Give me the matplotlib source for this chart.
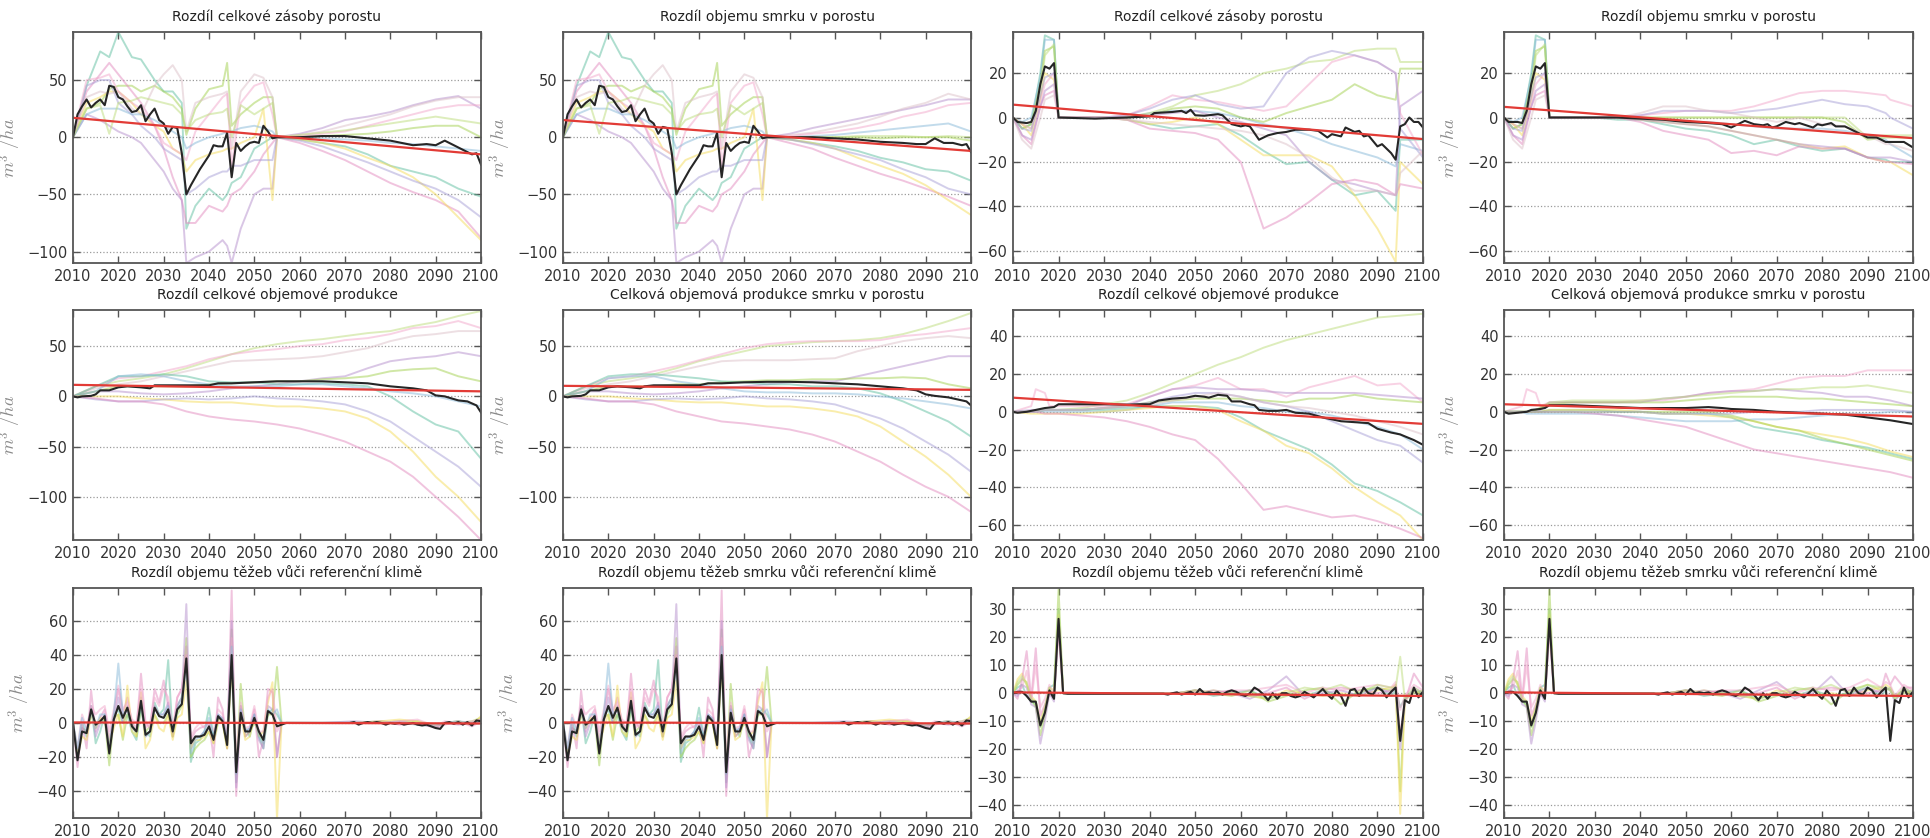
import matplotlib
matplotlib.use("Agg")
from matplotlib import pyplot as plt
from matplotlib.transforms import Bbox, TransformedBbox

plt.rcParams['font.family'] = ['DejaVu Sans']
plt.rcParams['mathtext.fontset'] = 'cm'

X_MIN, X_MAX = 2010, 2100
X_TICKS = list(range(2010, 2101, 10))
YEARS = list(range(2010, 2101))

TITLES = [
    ["Rozdíl celkové zásoby porostu", "Rozdíl objemu smrku v porostu",
     "Rozdíl celkové zásoby porostu", "Rozdíl objemu smrku v porostu"],
    ["Rozdíl celkové objemové produkce", "Celková objemová produkce smrku v porostu",
     "Rozdíl celkové objemové produkce", "Celková objemová produkce smrku v porostu"],
    ["Rozdíl objemu těžeb vůči referenční klimě", "Rozdíl objemu těžeb smrku vůči referenční klimě",
     "Rozdíl objemu těžeb vůči referenční klimě", "Rozdíl objemu těžeb smrku vůči referenční klimě"],
]
Y_LABEL = r'$m^3\ /ha$'

# ---------------- row 1, columns 1-2: standing volume ----------------
STOCK_G1 = [2010, 2013, 2016, 2018, 2020, 2023, 2025, 2028, 2030, 2032, 2034,
            2035, 2037, 2040, 2043, 2044, 2045, 2047, 2050, 2052, 2054, 2055]
STOCK_G2 = [2055, 2060, 2065, 2070, 2075, 2080, 2085, 2090, 2095, 2100]
STOCK_EARLY = [
    [0, 45, 75, 70, 92, 70, 68, 50, 40, 40, 30, -80, -60, -45, -55, -50, -40, -35, -10, -5, 0, 0],
    [0, 25, 30, 42, 45, 45, 40, 45, 40, 35, 25, 2, 25, 42, 45, 65, 10, 20, 30, 35, 35, 0],
    [0, 40, 55, 65, 55, 40, 30, 10, -10, -35, -55, -75, -75, -60, -65, -60, -50, -45, -30, -15, -5, 0],
    [0, 20, 15, 10, 5, 0, -5, -20, -30, -45, -55, -110, -105, -100, -90, -95, -110, -80, -50, -45, -45, 0],
    [0, 30, 35, 40, 40, 30, 20, 10, 5, -10, -15, -30, -20, -15, -12, -10, -10, -5, 0, 25, -55, 0],
    [0, 45, 50, 50, 30, 20, 10, 0, -10, -15, -20, -50, -45, -35, -30, -30, -25, -25, -20, -20, -20, 0],
    [0, 35, 40, 38, 40, 25, 20, 45, 55, 63, 50, 5, 30, 35, 38, 40, -10, 40, 55, 52, 35, 0],
    [0, 50, 52, 55, 40, 30, 25, 10, -5, -10, -15, -20, 5, 20, 35, 38, -25, 30, 45, 48, 20, 0],
    [0, 20, 25, 25, 25, 20, 20, 15, 10, 5, 0, -10, -5, 0, 3, 5, 5, 8, 10, 8, 5, 0],
    [0, 25, 28, 3, 30, 32, 35, 32, 30, 28, 20, 5, 15, 20, 22, 25, 0, 28, 20, 25, 30, 0],
]
STOCK_LATE_TOTAL = [
    [0, -2, -5, -8, -15, -25, -30, -35, -45, -52],
    [0, 0, 1, 2, 3, 5, 8, 10, 10, 0],
    [0, -5, -12, -20, -30, -40, -48, -55, -65, -88],
    [0, 3, 8, 15, 18, 22, 28, 33, 36, 25],
    [0, -2, -5, -10, -18, -25, -35, -50, -70, -90],
    [0, -3, -8, -15, -22, -30, -38, -45, -55, -70],
    [0, 2, 5, 10, 15, 20, 27, 32, 35, 35],
    [0, 1, 3, 5, 10, 15, 20, 25, 28, 28],
    [0, 0, -1, -2, -3, -5, -6, -8, -10, -12],
    [0, 2, 4, 6, 9, 12, 15, 18, 15, 12],
]
STOCK_LATE_SPRUCE = [
    [0, -2, -5, -8, -12, -18, -22, -28, -30, -38],
    [0, 0, 0, 0, 0, -1, 0, 0, 0, -3],
    [0, -5, -10, -18, -25, -32, -38, -45, -52, -60],
    [0, 3, 8, 12, 16, 20, 24, 28, 33, 33],
    [0, -2, -5, -10, -18, -25, -32, -42, -55, -68],
    [0, -2, -6, -10, -15, -20, -28, -35, -45, -50],
    [0, 2, 4, 8, 12, 18, 25, 30, 38, 33],
    [0, 1, 3, 5, 8, 12, 18, 22, 28, 30],
    [0, 0, 1, 2, 4, 6, 8, 10, 12, 5],
    [0, 0, 0, 0, 1, 1, 1, 0, 1, 0],
]
STOCK_MEAN_EARLY = [0, 20, 27, 33, 26, 30, 33, 28, 45, 44,
                    35, 33, 27, 22, 23, 28, 14, 20, 25, 15,
                    12, 3, 9, 8, -14, -50, -42, -35, -28, -22,
                    -16, -7, -8, -8, 4, -35, -5, -12, -8, -5,
                    -4, -5, 10, 5, -1, 0]
STOCK_MEAN_TAIL_YEARS = [2055, 2060, 2065, 2070, 2075, 2080, 2085, 2088, 2090,
                         2092, 2094, 2096, 2098, 2099, 2100]
STOCK_MEAN_TAIL_TOTAL = [0, 0, 1, 1, -1, -3, -7, -6, -7, -3, -7, -11, -15, -14, -24]
STOCK_MEAN_TAIL_SPRUCE = [0, 0, 0, -1, -2, -4, -5, -6, -6, -1, -5, -5, -7, -6, -13]
TREND_STOCK_TOTAL = [17, -15]
TREND_STOCK_SPRUCE = [15, -12]

# ---------------- row 1, columns 3-4: standing volume ----------------
STOCK2_G = [2010, 2012, 2014, 2016, 2017, 2019, 2020, 2030, 2035, 2040, 2045, 2050,
            2055, 2060, 2065, 2070, 2075, 2080, 2085, 2090, 2094, 2095, 2100]
STOCK2_EARLY = [
    [0, -5, -3, 20, 37, 35, 0],
    [0, -2, 0, 18, 35, 35, 0],
    [0, -5, -3, 15, 30, 32, 0],
    [0, -3, -5, 10, 28, 33, 0],
    [0, -3, -8, 8, 20, 17, 0],
    [0, -8, -12, 5, 10, 12, 0],
    [0, -8, -10, 5, 12, 15, 0],
    [0, -3, -5, 8, 15, 20, 0],
    [0, -5, -6, 10, 18, 20, 0],
    [0, -10, -14, 0, 8, 10, 0],
]
STOCK2_LATE_TOTAL = [
    [0, -1, -3, -5, -4, -3, -8, -15, -21, -20, -28, -35, -33, -42, -10, -10],
    [0, 0, 2, 3, 3, 2, 0, -3, -5, -8, -12, -15, -18, -22, -12, -15],
    [0, 0, 1, 4, 5, 4, 0, -2, 2, 5, 8, 15, 10, 8, 22, 22],
    [0, 0, 2, 5, 10, 12, 15, 20, 22, 25, 26, 30, 31, 31, 25, 25],
    [0, -1, -3, -2, 0, -3, -10, -17, -17, -17, -22, -35, -50, -65, -20, -30],
    [0, -1, -5, -6, -7, -10, -20, -50, -45, -38, -30, -28, -30, -35, -30, -32],
    [0, 0, 1, 2, 3, 0, -2, -5, -8, -20, -28, -30, -33, -35, 5, 12],
    [0, 1, 5, 10, 8, 7, 5, 3, 5, 15, 25, 28, 25, 20, 2, -17],
    [0, 1, 4, 8, 10, 6, 4, 5, 20, 27, 30, 28, 25, 20, -5, -18],
    [0, -1, -2, -3, -4, -5, -6, -8, -12, -18, -27, -33, -33, -35, -25, -15],
]
STOCK2_LATE_SPRUCE = [
    [0, -1, -1, -3, -5, -6, -8, -12, -10, -13, -15, -14, -18, -19, -20, -20],
    [0, 0, 0, -1, -2, -2, -3, -4, -5, -5, -5, -6, -8, -10, -12, -18],
    [0, 0, 0, 0, 0, 0, 0, 0, 0, 0, 0, -2, -10, -9, -9, -9],
    [0, 0, 0, 0, 0, 0, 0, 0, 0, 0, 0, 0, -9, -8, -8, -8],
    [0, 0, -1, -2, -3, -4, -6, -8, -10, -12, -14, -13, -18, -20, -20, -26],
    [0, 0, -2, -6, -8, -10, -16, -15, -17, -13, -14, -14, -18, -20, -20, -21],
    [0, 0, -1, -2, -3, -4, -6, -8, -10, -12, -13, -14, -18, -18, -18, -20],
    [0, 0, 1, 2, 3, 3, 3, 5, 8, 11, 12, 12, 11, 10, 8, 5],
    [0, 0, 1, 3, 3, 3, 2, 3, 4, 6, 8, 6, 5, 2, 0, -5],
    [0, 0, 2, 5, 5, 3, 2, 0, -2, 0, -3, -4, -8, -12, -12, -15],
]
STOCK2_MEAN_TOTAL_YEARS = [2010, 2011, 2013, 2014, 2015, 2016, 2017, 2018, 2019, 2020,
                           2028, 2035, 2040, 2041, 2045, 2047, 2048, 2049, 2050, 2052,
                           2055, 2056, 2058, 2060, 2061, 2062, 2064, 2066, 2068, 2070,
                           2072, 2075, 2077, 2079, 2080, 2082, 2083, 2085, 2086, 2087,
                           2088, 2090, 2091, 2093, 2094, 2095, 2096, 2097, 2098, 2099, 2100]
STOCK2_MEAN_TOTAL = [0, -2, -2.5, -2, 3, 15, 23, 22, 24.5, 0,
                     -0.5, 0, 0.5, 2, 2.5, 3, 2, 3.5, 1, 0.8,
                     1.5, 1, -3, -4, -3.5, -4, -10, -8, -7, -6.5,
                     -5.5, -5.5, -6, -9, -7.5, -8.5, -4.5, -6.5, -6, -8.5,
                     -8, -13, -12, -16, -19, -4, -3, 0, -2, -2, -4.5]
STOCK2_MEAN_SPRUCE_YEARS = [2010, 2011, 2013, 2014, 2015, 2016, 2017, 2018, 2019, 2020,
                            2035, 2040, 2045, 2050, 2055, 2058, 2060, 2061, 2063, 2065,
                            2067, 2068, 2069, 2070, 2072, 2074, 2075, 2078, 2079, 2080,
                            2082, 2083, 2085, 2088, 2090, 2092, 2094, 2096, 2098, 2100]
STOCK2_MEAN_SPRUCE = [0, -2, -2, -2.5, 3, 15, 23, 22, 24.5, 0,
                      0, -0.5, -1, -2, -2.5, -3, -4.5, -3.5, -1.5, -3,
                      -3.5, -3, -4.5, -4, -2, -3, -2.5, -4.5, -3, -3.5,
                      -2.5, -4, -4, -7, -9, -9, -11, -11, -11, -13.5]
TREND_STOCK2_TOTAL = [5.8, -9.7]
TREND_STOCK2_SPRUCE = [4.8, -9.3]

# ---------------- row 2: total volume production ----------------
PROD_G = [2010, 2015, 2020, 2025, 2030, 2035, 2040, 2045, 2050, 2055,
          2060, 2065, 2070, 2075, 2080, 2085, 2090, 2095, 2100]
PROD_TOTAL = [
    [0, 10, 15, 18, 22, 28, 35, 42, 48, 52, 55, 57, 60, 63, 65, 70, 74, 80, 85],
    [0, 10, 18, 20, 25, 30, 37, 42, 45, 47, 50, 52, 56, 58, 62, 68, 70, 75, 68],
    [0, 8, 12, 15, 20, 25, 30, 35, 36, 37, 38, 40, 44, 48, 55, 60, 62, 65, 65],
    [0, 5, 5, 3, 2, 3, 5, 8, 10, 12, 15, 18, 20, 28, 35, 38, 40, 44, 40],
    [0, 5, 10, 10, 10, 10, 12, 13, 14, 15, 15, 17, 18, 20, 25, 27, 28, 20, 15],
    [0, 10, 20, 20, 22, 20, 15, 14, 14, 12, 12, 13, 12, 10, 0, -15, -28, -35, -62],
    [0, 5, 20, 22, 20, 15, 12, 10, 10, 10, 12, 12, 10, 8, 5, 3, 0, -5, -10],
    [0, 0, 0, -2, -3, -5, -6, -6, -8, -10, -10, -12, -15, -22, -35, -55, -80, -100, -125],
    [0, -3, -5, -5, -3, -2, -3, -2, 0, -2, -3, -5, -8, -15, -25, -40, -55, -70, -90],
    [0, -2, -5, -5, -8, -15, -20, -23, -25, -28, -32, -38, -45, -55, -65, -80, -100, -120, -143],
]
PROD_SPRUCE = [
    [0, 10, 15, 18, 22, 28, 35, 40, 45, 50, 52, 54, 55, 56, 58, 62, 68, 75, 83],
    [0, 10, 18, 20, 25, 30, 36, 42, 48, 52, 54, 55, 55, 55, 56, 60, 62, 65, 68],
    [0, 8, 12, 15, 20, 25, 30, 35, 36, 36, 36, 37, 38, 45, 50, 55, 58, 60, 58],
    [0, 5, 5, 3, 2, 3, 5, 8, 10, 12, 14, 15, 15, 20, 25, 30, 35, 40, 40],
    [0, 5, 10, 10, 10, 12, 12, 14, 15, 16, 16, 17, 17, 18, 18, 19, 18, 12, 8],
    [0, 10, 20, 22, 22, 20, 18, 15, 14, 12, 12, 10, 10, 8, 3, -5, -15, -25, -40],
    [0, 5, 18, 20, 20, 15, 12, 8, 5, 4, 4, 3, 3, 2, 0, -2, -5, -8, -12],
    [0, 0, 0, -2, -3, -5, -6, -6, -8, -10, -10, -12, -15, -20, -30, -45, -60, -78, -100],
    [0, -3, -5, -5, -3, -2, -3, -2, 0, -2, -3, -5, -8, -15, -22, -32, -45, -58, -75],
    [0, -2, -5, -5, -8, -15, -20, -25, -27, -30, -33, -38, -45, -55, -65, -78, -90, -100, -115],
]
PROD_MEAN_YEARS = [2010, 2011, 2012, 2014, 2015, 2016, 2018, 2020, 2022, 2025,
                   2027, 2028, 2030, 2035, 2040, 2042, 2045, 2050, 2055, 2060,
                   2065, 2070, 2075, 2080, 2085, 2088, 2090, 2092, 2095, 2097, 2099, 2100]
PROD_MEAN_TOTAL = [0, -1, 0, 0.5, 2, 6, 6, 9, 10, 9,
                   8, 11, 11, 11, 11, 13, 13, 14, 15, 15,
                   15, 14, 13, 10, 8, 6, 1, 0, -4, -5, -9, -16]
PROD_MEAN_SPRUCE = [0, -1, 0, 0.5, 2, 6, 6, 9, 10, 9,
                    8, 10, 11, 11, 11, 13, 13, 14, 14.5, 14.5,
                    14, 13, 12, 10, 8, 6, 2, 0.5, -1, -3, -5, -9]
TREND_PROD_TOTAL = [11.5, 5]
TREND_PROD_SPRUCE = [10.5, 6.5]

PROD2_G = [2010, 2014, 2015, 2017, 2018, 2020, 2025, 2030, 2035, 2040, 2045,
           2050, 2055, 2060, 2065, 2070, 2075, 2080, 2085, 2090, 2095, 2100]
PROD2_TOTAL = [
    [0, 0, 0, 1, 1, 1, 2, 4, 6, 10, 15, 20, 25, 29, 34, 38, 41, 44, 47, 50, 51, 52],
    [0, 3, 12, 10, 3, 3, 3, 3, 4, 8, 12, 14, 18, 12, 12, 8, 13, 16, 19, 14, 15, 5],
    [0, 1, 1, 1, 1, 1, 1, 2, 3, 8, 12, 13, 12, 12, 11, 10, 10, 10, 10, 9, 8, 7],
    [0, 0, 0, 1, 1, 1, 1, 2, 3, 5, 6, 7, 7, 7, 6, 5, 7, 7, 9, 7, 6, 5],
    [0, 0, 0, 0, 0, 0, 0, 0, 1, 3, 5, 5, 5, 3, 2, 0, 0, -2, -5, -8, -12, -20],
    [0, 0, 0, 1, 1, 1, 1, 1, 2, 3, 3, 3, 2, -3, -10, -15, -20, -28, -38, -42, -48, -55],
    [0, -1, -1, -1, -1, -1, -1, 0, 1, 2, 3, 3, 1, -5, -10, -18, -22, -30, -40, -48, -55, -68],
    [0, 0, 0, -1, -1, -1, -2, -3, -5, -8, -12, -15, -25, -38, -52, -50, -53, -56, -55, -58, -62, -67],
    [0, 0, 0, 1, 1, 1, 1, 2, 3, 5, 8, 10, 10, 8, 5, 3, 0, -5, -10, -15, -18, -27],
    [0, 0, 0, 1, 1, 1, 1, 2, 3, 4, 6, 8, 10, 8, 5, 3, 2, 0, -2, -5, -8, -12],
]
PROD2_SPRUCE = [
    [0, 3, 12, 10, 3, 5, 5, 5, 5, 6, 6, 8, 10, 11, 12, 15, 18, 19, 19, 22, 22, 22],
    [0, 0, 0, 1, 1, 5, 5, 5, 5, 5, 7, 8, 10, 11, 11, 12, 11, 10, 8, 8, 6, 3],
    [0, 0, 0, 1, 2, 5, 6, 6, 6, 6, 7, 8, 9, 10, 11, 12, 12, 13, 13, 14, 12, 10],
    [0, 0, 0, 1, 2, 4, 5, 5, 5, 5, 5, 6, 7, 8, 8, 8, 7, 7, 6, 5, 4, 3],
    [0, 0, -1, -1, -1, -1, -1, -1, -2, -3, -4, -5, -5, -5, -4, -4, -3, -2, -1, -1, 0, 0],
    [0, 0, 0, 0, 0, 1, 1, 1, 0, 0, -1, -1, -1, -3, -8, -10, -12, -15, -17, -19, -22, -25],
    [0, 0, 0, 0, 0, 1, 1, 1, 1, 0, -1, -1, -2, -3, -5, -8, -10, -12, -14, -17, -21, -24],
    [0, 0, 0, 0, 0, 0, 0, -1, -2, -4, -6, -8, -12, -16, -20, -22, -24, -26, -28, -30, -32, -35],
    [0, 0, 0, 0, 0, 0, 0, 0, 0, 0, 0, 0, 0, -2, -5, -8, -10, -14, -17, -20, -23, -26],
    [0, 0, 0, 0, 0, 0, 0, 0, 0, 0, -1, -1, -1, -1, 0, 0, 0, 1, 1, 1, 1, 0],
]
PROD2_MEAN_TOTAL_YEARS = [2010, 2011, 2013, 2015, 2017, 2019, 2020, 2025, 2030, 2035,
                          2038, 2040, 2042, 2045, 2048, 2050, 2052, 2053, 2055, 2057,
                          2058, 2060, 2062, 2063, 2064, 2066, 2068, 2070, 2072, 2075,
                          2078, 2080, 2082, 2085, 2088, 2090, 2093, 2095, 2098, 2100]
PROD2_MEAN_TOTAL = [0, -0.5, 0, 1, 2, 2.5, 4, 4, 4, 3.8,
                    4, 4, 6, 7, 7.5, 8.5, 8, 7.5, 9, 8.5,
                    5.5, 5.5, 4, 3.5, 1, 0.5, 0.5, 1, -0.5, -1,
                    -3, -4, -5, -5.5, -6, -9, -11, -12, -15, -17.5]
PROD2_MEAN_SPRUCE_YEARS = [2010, 2011, 2013, 2015, 2016, 2018, 2019, 2020, 2025, 2030,
                           2035, 2040, 2045, 2050, 2055, 2058, 2060, 2065, 2070, 2075,
                           2080, 2085, 2090, 2095, 2100]
PROD2_MEAN_SPRUCE = [0, -1, -0.5, 0, 1, 1.5, 2, 3.5, 3.5, 3,
                     2.5, 2, 2, 2, 2.5, 2, 1.5, 1, 0, -0.5,
                     -1, -1.5, -3, -4.5, -6.5]
TREND_PROD2_TOTAL = [7.5, -6.4]
TREND_PROD2_SPRUCE = [4, -2.5]

# ---------------- row 3, columns 1-2: harvest ----------------
HARV_EARLY_YEARS = list(range(2010, 2057))
HARV_EARLY = [
    [0, -18, 0, -8, 10, -12, -5, 5, -15, 5, 8, 0, 5, -5, -10, 10, -5, -8, 12, 5,
     8, 37, -8, 10, 15, 45, -23, -12, -10, -5, 9, -8, 2, 3, -10, 35, -35, 10, -3, -8,
     5, -8, -15, 6, 8, 5, 0],
    [0, -20, -3, -5, 5, 0, 0, 3, -25, 3, 5, -10, 5, 0, -8, 8, -5, -2, 5, 0,
     0, 5, -8, 5, 10, 50, -20, -15, -12, -10, -5, -12, 0, 0, -15, 55, -30, 23, -8, -5,
     0, -5, -12, 5, 5, 33, 0],
    [0, -26, 0, -15, 19, -5, 3, 8, -10, 5, 20, 5, 15, 0, -3, 29, 0, -3, 20, 12,
     25, 10, -8, 15, 20, 40, -10, -5, -3, -2, 0, -20, 15, 8, -15, 78, -43, 10, -8, -5,
     8, -20, -10, 20, 18, -20, 0],
    [0, -20, -3, -5, 10, -8, 0, 5, -15, 0, 15, 0, 10, -3, -5, 15, -8, -5, 10, 5,
     5, 12, -5, 10, 15, 70, -15, -8, -8, -5, -3, -10, 5, 3, -12, 60, -38, 8, -5, -3,
     5, -10, -15, 10, 8, -20, 0],
    [0, -20, -8, -10, 5, -3, 3, 2, -12, -3, 5, -8, 22, -5, -8, 18, -15, -10, 5, -3,
     -5, 5, -10, 3, 5, 25, -15, -10, -10, -8, -5, -12, 3, 0, -15, 35, -25, 5, -10, -8,
     3, -8, -5, 12, 24, -57, 0],
    [0, -15, 5, -3, 10, 5, 8, 10, -5, 8, 22, 8, 12, 2, 0, 20, -3, 0, 15, 10,
     20, 15, -3, 15, 20, 45, -8, -3, 0, -3, 0, -5, 8, 5, -8, 50, -20, 12, -3, -2,
     10, -5, -5, 15, 20, -5, 0],
    [0, -15, 3, -5, 6, -3, 5, 5, -15, 5, 35, 5, 8, -2, -5, 10, -8, -5, 8, 5,
     5, 10, -5, 8, 12, 35, -18, -10, -8, -5, 3, -8, 5, 2, -10, 45, -30, 8, -5, -3,
     5, -8, -12, 8, 5, 8, 0],
]
HARV_TAIL_YEARS = [2056, 2065, 2072, 2078, 2082, 2086, 2090, 2092, 2095, 2098, 2100]
HARV_TAIL = [
    [0, 0, 0, 1, 0, -1, -2, 0, 1, -1, 2],
    [0, 0, 0, 0, 1, 1, -2, 0, 0, 1, 3],
    [0, 0, 0, 1, -1, 0, -3, -1, 1, -2, 1],
    [0, 0, 1, 0, 1, -1, -2, 0, -1, 0, 2],
    [0, 0, 0, 1, 2, 1, -1, 0, 1, -1, 4],
    [0, 0, 0, 0, 1, 2, -2, 1, 0, 1, 2],
    [0, 0, 0, 0, 0, 0, -1, 0, 1, 0, 1],
]
HARV_MEAN = [0, -22, -5, -6, 8, -1, 1, 4, -18, 2,
             10, 3, 9, -2, -5, 13, -7, -5, 9, 4,
             3, 8, -5, 8, 11, 38, -12, -8, -8, -7,
             -2, -10, 4, 1, -13, 40, -29, 6, -5, -5,
             3, -5, -10, 7, 5, -2, -1, 0, 0, 0,
             0, 0, 0, 0, 0, 0, 0, 0, 0, 0,
             0, 0, 0.5, -1, 0, 0.5, 0, 0.5, 0, -1,
             0, -0.5, 0, -1, -0.5, 0, -1, -1.5, -1, -2,
             -3, -3.5, 0, 0.5, -0.5, 0.5, -1, 0.5, -1.5, 1.5,
             1]
TREND_HARV = [0.3, -0.3]

# ---------------- row 3, columns 3-4: harvest ----------------
HARV2_G = list(range(2010, 2022)) + [2043, 2046, 2050, 2054, 2058, 2062, 2066, 2070, 2074, 2078,
                                     2082, 2086, 2090, 2093, 2094, 2095, 2096, 2098, 2100]
HARV2_EARLY = [
    [0, 2, 3, -1, -3, -4, -12, -6, 2, 3, 30, 0],
    [0, 3, 5, 4, -2, -5, -15, -8, 1, -1, 37, 0],
    [0, 5, 7, 3, -1, -3, -10, -5, 2, 1, 28, 0],
    [0, -2, 5, 15, -2, 16, -8, -4, 0, -2, 24, 0],
    [0, -1, 3, 2, -4, -5, -18, -10, 0, -3, 26, 0],
    [0, 1, 2, 8, -3, 10, -5, -2, 3, -1, 22, 0],
    [0, 4, 6, 3, -2, -3, -12, -5, 2, -2, 30, 0],
]
HARV2_LATE_TOTAL = [
    [0, 0, 1, -1, 0, 1, -2, 0, -1, 1, -1, 0, 2, -1, 1, -5, -2, 1, 0],
    [0, 0, 1, 0, -1, 1, -3, -1, 1, 2, -4, 1, 2, 1, 2, -35, -2, 0, 1],
    [0, 0, 0, 1, 0, -1, -2, 1, 0, -1, 0, -1, 1, 2, 3, -43, -3, 1, -1],
    [0, 0, 1, 0, 1, -1, 0, 2, -2, 1, 2, 1, 0, 1, 3, -15, -3, 7, 2],
    [0, 0, 0, 1, 0, -2, 1, 6, -1, 0, 1, -1, 2, 0, 2, -20, -3, 2, 0],
    [0, 0, 1, 0, 1, 1, 2, 3, 0, 2, 1, 2, 3, 2, 4, -6, -1, 3, 1],
    [0, 0, 1, 0, 0, -1, -2, 0, 2, 1, 3, 0, 3, 2, 2, 13, -2, 2, 0],
]
HARV2_LATE_SPRUCE = [
    [0, 0, 1, -1, 0, 1, -2, 0, -1, 1, -1, 0, 2, -1, 1, 2, -1, 1, 0],
    [0, 0, 1, 0, -1, 1, -3, -1, 1, 2, -4, 1, 3, 1, 2, 1, -2, 0, 1],
    [0, 0, 0, 1, 0, -1, -2, 1, 0, -1, 0, -1, 1, 2, 3, 2, -1, 1, -1],
    [0, 0, 1, 0, 1, -1, 0, 2, -2, 1, 2, 1, 0, 1, 7, 3, 6, 2, 2],
    [0, 0, 0, 1, 0, -2, 1, 4, -1, 0, 6, -1, 2, 0, 2, 1, -3, 2, 0],
    [0, 0, 1, 0, 1, 1, 2, 3, 0, 2, 1, 2, 5, 2, 4, 3, -1, 3, 1],
    [0, 0, 1, 0, 0, -1, -2, 0, 2, 1, 3, 0, 3, 2, 2, 1, -2, 2, 0],
]
HARV2_MEAN = [0, 0.5, 0.5, -1, -3, -3, -11.5, -7, 1, -2,
              26.5, 0, -0.2, -0.2, -0.2, -0.2, -0.2, -0.2, -0.2, -0.2,
              -0.2, -0.2, -0.2, -0.2, -0.2, -0.2, -0.2, -0.2, -0.2, -0.2,
              -0.2, -0.2, -0.2, -0.2, -0.5, 0, 0.3, -0.5, 0, 0.5,
              -0.5, 1.5, 0, 0.3, 0, 0.3, -0.5, 0.5, 1, 0.5,
              -0.5, -1, 0, 2, 1, -0.5, -2.5, 0, -2, 0,
              0, -1, -1.5, -1, 0.5, -0.5, -1.5, 0, 1.5, -0.5,
              -2, 1, -1, -4.5, 1, 1.5, -1, 2, 0, -0.5,
              2, 1, -1.5, 0.5, 2, -17, -2.5, -3.5, 2, -1.5,
              0.5]
TREND_HARV2 = [0.3, -1.0]

# ---------------- styles ----------------
C_TEAL, C_GREEN, C_PINK, C_LAV = '#5fbfa0', '#a2d04e', '#e38abf', '#b58fcc'
C_YELLOW, C_LAV2, C_BEIGE, C_LPINK = '#f5dc5a', '#a79fd6', '#dcc0c8', '#f2a7cb'
C_BLUE, C_YG = '#86b8d8', '#bcdc7a'

COLORS_STOCK = [C_TEAL, C_GREEN, C_PINK, C_LAV, C_YELLOW, C_LAV2, C_BEIGE, C_LPINK, C_BLUE, C_YG]
COLORS_STOCK2 = [C_TEAL, C_BLUE, C_GREEN, C_YG, C_YELLOW, C_PINK, C_LAV, C_LPINK, C_LAV2, C_BEIGE]
COLORS_PROD = [C_YG, C_LPINK, C_BEIGE, C_LAV, C_GREEN, C_TEAL, C_BLUE, C_YELLOW, C_LAV2, C_PINK]
COLORS_PROD2 = [C_YG, C_LPINK, C_LAV, C_GREEN, C_BLUE, C_TEAL, C_YELLOW, C_PINK, C_LAV2, C_BEIGE]
COLORS_PROD3 = [C_LPINK, C_LAV, C_YG, C_GREEN, C_BLUE, C_TEAL, C_YELLOW, C_PINK, C_GREEN, C_LAV2]
COLORS_HARV = [C_TEAL, C_GREEN, C_PINK, C_LAV, C_YELLOW, C_LPINK, C_BLUE]
COLORS_HARV2 = [C_TEAL, C_GREEN, C_YELLOW, C_PINK, C_LAV, C_LPINK, C_YG]

FIG_W, FIG_H = 1930, 838
COL_X = [(73, 408), (563, 408), (1013, 410), (1504, 409)]
ROW_Y = [(32, 263), (310, 540), (588, 818)]
LEFT_HALF_EDGE = 980  # the right half of the original image hides what lies past this


def join(first, second):
    return list(first) + list(second[1:])


def draw_panel(ax, title, ylim, yticks, scenarios, colors, mean_x, mean_y, trend, ylabel=True):
    for (xs, ys), col in zip(scenarios, colors):
        ax.plot(xs, ys, color=col, lw=1.4, alpha=0.5)
    ax.plot(mean_x, mean_y, color='#262626', lw=1.5)
    ax.plot([X_MIN, X_MAX], trend, color='#e23b36', lw=1.6)

    ax.set_xlim(X_MIN, X_MAX)
    ax.set_ylim(*ylim)
    ax.set_xticks(X_TICKS)
    ax.set_yticks(yticks)
    ax.grid(True, axis='y', linestyle=':', color='#9a9a9a', lw=0.9)
    ax.tick_params(direction='in', top=True, right=True, length=5, width=1,
                   color='#555555', labelcolor='#333333', labelsize=10.5, pad=4)
    for sp in ax.spines.values():
        sp.set_color('#555555')
        sp.set_linewidth(1.3)
    ax.set_title(title, fontsize=10, color='#222222', pad=8)
    if ylabel:
        ax.set_ylabel(Y_LABEL, fontsize=13, color='#8a8a8a', labelpad=3)


def main():
    fig = plt.figure(figsize=(FIG_W / 100, FIG_H / 100), dpi=100)
    axes = []
    for r, (top, bottom) in enumerate(ROW_Y):
        row = []
        for c, (left, width) in enumerate(COL_X):
            ax = fig.add_axes([left / FIG_W, 1 - bottom / FIG_H, width / FIG_W, (bottom - top) / FIG_H])
            row.append(ax)
        axes.append(row)

    # row 1
    stock_total = [(join(STOCK_G1, STOCK_G2), join(e, l)) for e, l in zip(STOCK_EARLY, STOCK_LATE_TOTAL)]
    stock_spruce = [(join(STOCK_G1, STOCK_G2), join(e, l)) for e, l in zip(STOCK_EARLY, STOCK_LATE_SPRUCE)]
    early_years = list(range(2010, 2056))
    draw_panel(axes[0][0], TITLES[0][0], (-110, 92), [-100, -50, 0, 50], stock_total, COLORS_STOCK,
               join(early_years, STOCK_MEAN_TAIL_YEARS), join(STOCK_MEAN_EARLY, STOCK_MEAN_TAIL_TOTAL),
               TREND_STOCK_TOTAL)
    draw_panel(axes[0][1], TITLES[0][1], (-110, 92), [-100, -50, 0, 50], stock_spruce, COLORS_STOCK,
               join(early_years, STOCK_MEAN_TAIL_YEARS), join(STOCK_MEAN_EARLY, STOCK_MEAN_TAIL_SPRUCE),
               TREND_STOCK_SPRUCE)
    stock2_total = [(STOCK2_G, e + l) for e, l in zip(STOCK2_EARLY, STOCK2_LATE_TOTAL)]
    stock2_spruce = [(STOCK2_G, e + l) for e, l in zip(STOCK2_EARLY, STOCK2_LATE_SPRUCE)]
    draw_panel(axes[0][2], TITLES[0][2], (-65.5, 38.5), [-60, -40, -20, 0, 20], stock2_total, COLORS_STOCK2,
               STOCK2_MEAN_TOTAL_YEARS, STOCK2_MEAN_TOTAL, TREND_STOCK2_TOTAL, ylabel=False)
    draw_panel(axes[0][3], TITLES[0][3], (-65.5, 38.5), [-60, -40, -20, 0, 20], stock2_spruce, COLORS_STOCK2,
               STOCK2_MEAN_SPRUCE_YEARS, STOCK2_MEAN_SPRUCE, TREND_STOCK2_SPRUCE)

    # row 2
    draw_panel(axes[1][0], TITLES[1][0], (-143, 86), [-100, -50, 0, 50],
               [(PROD_G, s) for s in PROD_TOTAL], COLORS_PROD,
               PROD_MEAN_YEARS, PROD_MEAN_TOTAL, TREND_PROD_TOTAL)
    draw_panel(axes[1][1], TITLES[1][1], (-143, 86), [-100, -50, 0, 50],
               [(PROD_G, s) for s in PROD_SPRUCE], COLORS_PROD,
               PROD_MEAN_YEARS, PROD_MEAN_SPRUCE, TREND_PROD_SPRUCE)
    draw_panel(axes[1][2], TITLES[1][2], (-68, 54), [-60, -40, -20, 0, 20, 40],
               [(PROD2_G, s) for s in PROD2_TOTAL], COLORS_PROD2,
               PROD2_MEAN_TOTAL_YEARS, PROD2_MEAN_TOTAL, TREND_PROD2_TOTAL, ylabel=False)
    draw_panel(axes[1][3], TITLES[1][3], (-68, 54), [-60, -40, -20, 0, 20, 40],
               [(PROD2_G, s) for s in PROD2_SPRUCE], COLORS_PROD3,
               PROD2_MEAN_SPRUCE_YEARS, PROD2_MEAN_SPRUCE, TREND_PROD2_SPRUCE)

    # row 3
    harv = [(join(HARV_EARLY_YEARS, HARV_TAIL_YEARS), join(e, t)) for e, t in zip(HARV_EARLY, HARV_TAIL)]
    for c in (0, 1):
        draw_panel(axes[2][c], TITLES[2][c], (-56, 79.5), [-40, -20, 0, 20, 40, 60], harv, COLORS_HARV,
                   YEARS, HARV_MEAN, TREND_HARV)
    harv2_total = [(HARV2_G, e + l) for e, l in zip(HARV2_EARLY, HARV2_LATE_TOTAL)]
    harv2_spruce = [(HARV2_G, e + l) for e, l in zip(HARV2_EARLY, HARV2_LATE_SPRUCE)]
    yt = [-40, -30, -20, -10, 0, 10, 20, 30]
    draw_panel(axes[2][2], TITLES[2][2], (-44.5, 37.5), yt, harv2_total, COLORS_HARV2,
               YEARS, HARV2_MEAN, TREND_HARV2, ylabel=False)
    draw_panel(axes[2][3], TITLES[2][3], (-44.5, 37.5), yt, harv2_spruce, COLORS_HARV2,
               YEARS, HARV2_MEAN, TREND_HARV2)

    # last x label of column 2 is cut where the right half of the original begins
    clip = TransformedBbox(Bbox([[0, 0], [LEFT_HALF_EDGE / FIG_W, 1]]), fig.transFigure)
    for r in range(3):
        for lbl in axes[r][1].get_xticklabels():
            lbl.set_clip_box(clip)
            lbl.set_clip_on(True)

    fig.savefig('out.png', dpi=100, facecolor='white')


if __name__ == '__main__':
    main()
